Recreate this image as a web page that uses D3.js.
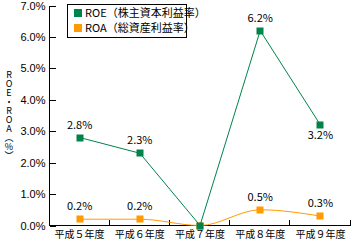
<html lang="ja">
<head>
<meta charset="UTF-8">
<title>ROE・ROA</title>
<style>
  body { margin: 0; background: #fff; }
  svg { display: block; font-family: "Noto Sans CJK JP", "Noto Sans", sans-serif; }
  .axis path, .axis line { stroke: #000; shape-rendering: crispEdges; }
  .axis text { font-size: 11px; fill: #000; }
  .ytitle { writing-mode: vertical-rl; text-orientation: upright; font-size: 9px; }
</style>
</head>
<body>
<svg></svg>
<script src="https://cdnjs.cloudflare.com/ajax/libs/d3/7.8.5/d3.min.js"></script>
<script>

var years = ["平成５年度", "平成６年度", "平成７年度", "平成８年度", "平成９年度"];
var roe = [2.8, 2.3, 0.0, 6.2, 3.2];
var roa = [0.2, 0.2, 0.0, 0.5, 0.3];
var roeLabels = ["2.8%", "2.3%", null, "6.2%", "3.2%"];
var roaLabels = ["0.2%", "0.2%", null, "0.5%", "0.3%"];
var yTicks = [0, 1, 2, 3, 4, 5, 6, 7];
var seriesNames = ["ROE（株主資本利益率）", "ROA（総資産利益率）"];

var width = 351, height = 241;
var plotL = 49.5, plotR = 350.5, plotT = 5.5, plotB = 225.5;

var svg = d3.select("svg").attr("width", width).attr("height", height);

var x = d3.scaleBand().domain(years).range([plotL, plotR]);
var y = d3.scaleLinear().domain([0, 7]).range([plotB, plotT]);

var green = "#00834a", orange = "#ff9a00";

// y axis, ticks point into the plot
svg.append("g")
  .attr("class", "axis")
  .attr("transform", "translate(" + plotL + ",0)")
  .call(d3.axisLeft(y).tickValues(yTicks).tickSize(-6).tickPadding(4)
    .tickFormat(function(d){ return d.toFixed(1) + "%"; }))
  .call(function(g){ g.select(".domain").attr("d", "M0," + plotT + "V" + plotB); });

// x axis: line, small ticks at band edges, labels at centres
var xa = svg.append("g").attr("class", "axis");
xa.append("line").attr("x1", plotL).attr("x2", plotR).attr("y1", plotB).attr("y2", plotB);
xa.selectAll(".edge")
  .data(years)
  .enter()
  .append("line")
    .attr("class", "edge")
    .attr("x1", function(d){ return Math.round(x(d) + x.bandwidth()) - 0.5; })
    .attr("x2", function(d){ return Math.round(x(d) + x.bandwidth()) - 0.5; })
    .attr("y1", plotB)
    .attr("y2", plotB - 6);
xa.selectAll("text")
  .data(years)
  .enter()
  .append("text")
    .attr("x", function(d){ return x(d) + x.bandwidth() / 2; })
    .attr("y", 238)
    .attr("text-anchor", "middle")
    .style("font-size", "10px")
    .text(function(d){ return d; });

// vertical y title
svg.append("text")
  .attr("class", "ytitle")
  .attr("x", 9)
  .attr("y", 70)
  .text("ROE・ROA（%）");

function drawSeries(values, labels, color, curve, labelBelow) {
  var pts = values.map(function(v, i){ return [x(years[i]) + x.bandwidth() / 2, y(v)]; });

  svg.append("path")
    .attr("d", d3.line().curve(curve)(pts))
    .attr("fill", "none")
    .attr("stroke", color)
    .attr("stroke-width", 1);

  svg.append("g").selectAll("rect")
    .data(pts)
    .enter()
    .append("rect")
      .attr("x", function(p){ return Math.round(p[0]) - 3.5; })
      .attr("y", function(p){ return Math.round(p[1]) - 3.5; })
      .attr("width", 7)
      .attr("height", 7)
      .attr("fill", color);

  svg.append("g").selectAll("text")
    .data(pts)
    .enter()
    .append("text")
      .attr("x", function(p){ return p[0]; })
      .attr("y", function(p, i){ return labelBelow[i] ? p[1] + 14 : p[1] - 9; })
      .attr("text-anchor", "middle")
      .style("font-size", "11px")
      .text(function(p, i){ return labels[i]; });
}

drawSeries(roa, roaLabels, orange, d3.curveMonotoneX, [false, false, false, false, false]);
drawSeries(roe, roeLabels, green, d3.curveLinear, [false, false, false, false, true]);

// legend
var lg = svg.append("g");
lg.append("rect")
  .attr("x", 67.5).attr("y", 4.5).attr("width", 119).attr("height", 33)
  .attr("fill", "#fff").attr("stroke", "#000");
lg.selectAll(".sw")
  .data([green, orange])
  .enter()
  .append("rect")
    .attr("x", 74)
    .attr("y", function(d, i){ return 9 + i * 15; })
    .attr("width", 8).attr("height", 8)
    .attr("fill", function(d){ return d; });
lg.selectAll("text")
  .data(seriesNames)
  .enter()
  .append("text")
    .attr("x", 85)
    .attr("y", function(d, i){ return 17 + i * 15; })
    .style("font-size", "11px")
    .text(function(d){ return d; });

</script>
</body>
</html>
